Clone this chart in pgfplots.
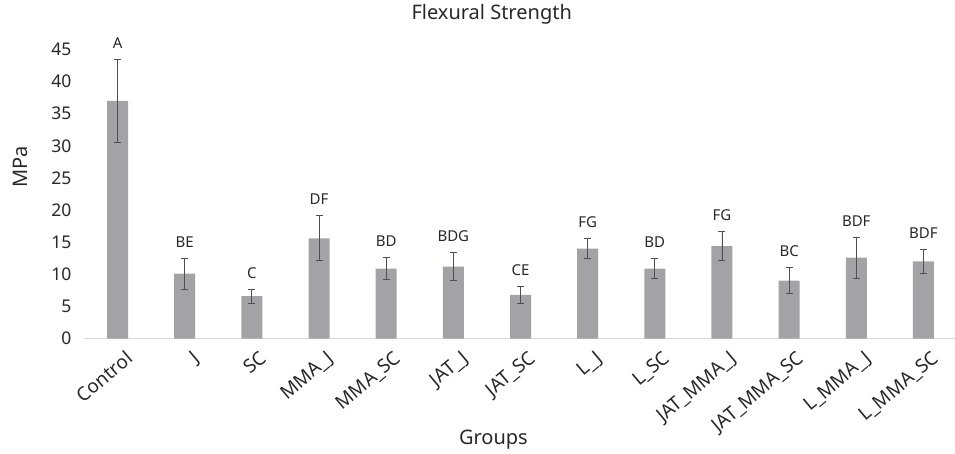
\documentclass[border=0pt]{standalone}
\usepackage{pgfplots}
\pgfplotsset{compat=1.18}
\usepackage{pgfplotstable}
\usepackage{fontspec}
\setmainfont{Noto Sans}
\definecolor{barc}{RGB}{163,163,165}
\definecolor{errc}{RGB}{80,80,80}
\definecolor{axc}{RGB}{217,217,217}
\definecolor{txt}{RGB}{40,40,40}
\pgfplotstableread{
x y e lab
0 37.0 6.5 A
1 10.1 2.4 BE
2 6.6 1.1 C
3 15.6 3.5 DF
4 10.9 1.7 BD
5 11.2 2.2 BDG
6 6.8 1.3 CE
7 14.0 1.6 FG
8 10.9 1.6 BD
9 14.4 2.3 FG
10 9.0 2.0 BC
11 12.6 3.2 BDF
12 12.0 1.9 BDF
}\data
\begin{document}
\begin{tikzpicture}
\begin{axis}[
  scale only axis, width=873pt, height=289pt,
  xmin=-0.5, xmax=12.5, ymin=0, ymax=45,
  clip=false,
  axis x line*=bottom, axis y line*=left,
  y axis line style={draw=none},
  x axis line style={draw=axc, line width=1pt},
  tick style={draw=none},
  xtick={0,...,12},
  xticklabels={Control,J,SC,MMA\_J,MMA\_SC,JAT\_J,JAT\_SC,L\_J,L\_SC,JAT\_MMA\_J,JAT\_MMA\_SC,L\_MMA\_J,L\_MMA\_SC},
  ytick={0,5,...,45},
  /pgf/number format/assume math mode=true,
  yticklabel style={font=\fontsize{17.5}{20}\selectfont, text=txt, xshift=-9pt},
  xticklabel style={font=\fontsize{19}{22}\selectfont, text=txt, inner sep=0pt, xshift=7pt, yshift=-11pt, rotate=40, anchor=north east},
  every axis title shift=0pt,
  title={Flexural Strength},
  title style={at={(axis description cs:0.467,1.123)}, anchor=center, font=\fontsize{20}{24}\selectfont, text=txt},
  xlabel={Groups},
  xlabel style={at={(axis description cs:0.469,-0.35)}, anchor=center, font=\fontsize{20}{24}\selectfont, text=txt},
  ylabel={MPa},
  ylabel style={at={(axis description cs:-0.073,0.593)}, anchor=center, font=\fontsize{20}{24}\selectfont, text=txt},
]
\addplot[ybar, bar width=21pt, fill=barc, draw=none,
  error bars/.cd, y dir=both, y explicit,
  error bar style={errc, line width=0.9pt},
  error mark options={rotate=90, mark size=3.5pt, errc, line width=0.9pt}]
  table[x=x, y=y, y error=e]{\data};
\addplot[only marks, mark=none, nodes near coords, point meta=explicit symbolic,
  nodes near coords style={font=\fontsize{15}{18}\selectfont, text=txt, anchor=base, yshift=11pt}]
  table[x=x, y expr=\thisrow{y}+\thisrow{e}, meta=lab]{\data};
\end{axis}
\pgfresetboundingbox
\path[use as bounding box] (-84pt,-114.5pt) rectangle (871pt,338.5pt);
\end{tikzpicture}
\end{document}
